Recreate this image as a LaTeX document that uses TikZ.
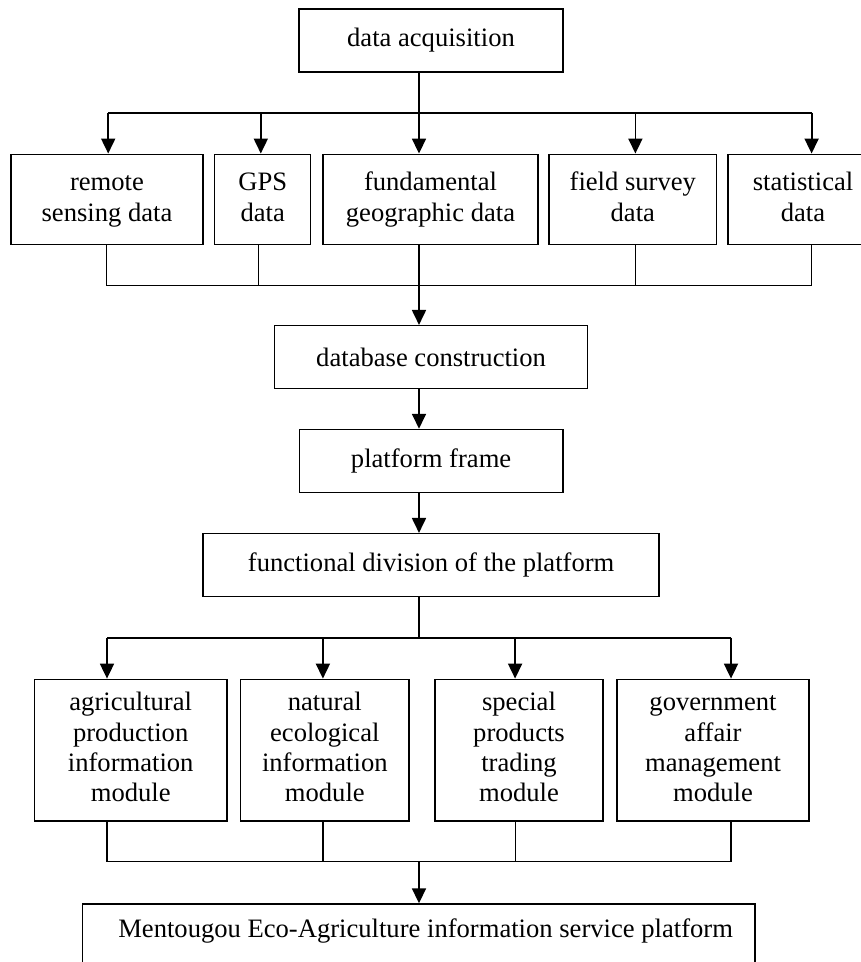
\documentclass[tikz,border=0pt]{standalone}
\usepackage{fontspec}
\setmainfont{Liberation Serif}
\usetikzlibrary{arrows.meta}
\newcommand{\ls}{\strut}
\begin{document}
\begin{tikzpicture}[x=1pt,y=-1pt,
 box/.style={draw,line width=1.5pt,align=center,inner sep=0pt,font=\fontsize{26.6}{31}\selectfont,minimum height=63pt},
 rowbox/.style={box,minimum height=90pt},
 modbox/.style={box,minimum height=141.7pt,font=\fontsize{26.6}{30.4}\selectfont},
 txt/.style={inner sep=0pt,font=\fontsize{26.6}{31}\selectfont},
 arr/.style={line width=1.8pt,-{Triangle[length=15pt,width=14pt]}},
 ln/.style={line width=1.6pt},
 thinln/.style={line width=1.2pt}]
\clip (0,0) rectangle (861,962);
\useasboundingbox (0,0) rectangle (861,962);
\fill[white] (0,0) rectangle (861,962);

% boxes
\node[box,minimum width=264pt] (acq) at (431,40.5) {data acquisition};
\node[rowbox,minimum width=192pt] (remote) at (107,199.3) {\ls remote\\\ls sensing data};
\node[rowbox,minimum width=96pt] (gps) at (262.7,199.3) {\ls GPS\\\ls data};
\node[rowbox,minimum width=215pt] (fund) at (430.5,199.3) {\ls fundamental\\\ls geographic data};
\node[rowbox,minimum width=167.6pt] (field) at (632.8,199.3) {\ls field survey\\\ls data};
\node[rowbox,minimum width=150pt] (stat) at (803,199.3) {\ls statistical\\\ls data};
\node[box,minimum width=313pt] (db) at (431.1,357.2) {database construction};
\node[box,minimum width=263.6pt] (pf) at (431.1,461) {platform frame};
\node[box,minimum width=455.8pt] (fd) at (431.1,565.2) {functional division of the platform};
\node[modbox,minimum width=192.2pt] (m1) at (130.7,750.2) {\ls agricultural\\\ls production\\\ls information\\\ls module};
\node[modbox,minimum width=168.6pt] (m2) at (324.8,750.2) {\ls natural\\\ls ecological\\\ls information\\\ls module};
\node[modbox,minimum width=168.1pt] (m3) at (519,750.2) {\ls special\\\ls products\\\ls trading\\\ls module};
\node[modbox,minimum width=191.7pt] (m4) at (713,750.2) {\ls government\\\ls affair\\\ls management\\\ls module};
\node[box,minimum width=672.6pt,minimum height=120pt,anchor=north] (plat) at (418.7,903.3) {};
\node[txt,anchor=base] (plattext) at (425.6,937.7) {Mentougou Eco-Agriculture information service platform};

% top distribution
\coordinate (ta) at (108.2,112.7);
\coordinate (tb) at (260.8,112.7);
\coordinate (tc) at (419,112.7);
\coordinate (td) at (635.4,112.7);
\coordinate (te) at (811.6,112.7);
\draw[ln] (ta) -- (te);
\draw[arr] (acq.south -| tc) -- (tc |- fund.north);
\draw[arr] (ta) -- (ta |- remote.north);
\draw[arr] (tb) -- (tb |- gps.north);
\draw[arr] (td) -- (td |- field.north);
\draw[arr] (te) -- (te |- stat.north);

% collection to database
\coordinate (ba) at (106.7,285.7);
\coordinate (bb) at (258.6,285.7);
\coordinate (bc) at (419,285.7);
\coordinate (bd) at (635.4,285.7);
\coordinate (be) at (811.6,285.7);
\draw[thinln] (remote.south -| ba) -- (ba) -- (be) -- (stat.south -| be);
\draw[thinln] (gps.south -| bb) -- (bb);
\draw[thinln] (field.south -| bd) -- (bd);
\draw[arr] (fund.south -| bc) -- (bc |- db.north);

\draw[arr] (db.south -| bc) -- (bc |- pf.north);
\draw[arr] (pf.south -| bc) -- (bc |- fd.north);

% module distribution
\coordinate (ma) at (107,637.7);
\coordinate (mb) at (322.9,637.7);
\coordinate (mc) at (515.1,637.7);
\coordinate (md) at (731,637.7);
\draw[ln] (fd.south -| bc) -- (bc |- ma);
\draw[ln] (ma) -- (md);
\draw[arr] (ma) -- (ma |- m1.north);
\draw[arr] (mb) -- (mb |- m2.north);
\draw[arr] (mc) -- (mc |- m3.north);
\draw[arr] (md) -- (md |- m4.north);

% collection to platform
\coordinate (na) at (107,861.7);
\coordinate (nb) at (322.9,861.7);
\coordinate (nc) at (515.1,861.7);
\coordinate (nd) at (731,861.7);
\draw[thinln] (m1.south -| na) -- (na) -- (nd) -- (m4.south -| nd);
\draw[thinln] (m2.south -| nb) -- (nb);
\draw[thinln] (m3.south -| nc) -- (nc);
\draw[arr] (bc |- na) -- (bc |- plat.north);
\end{tikzpicture}
\end{document}
